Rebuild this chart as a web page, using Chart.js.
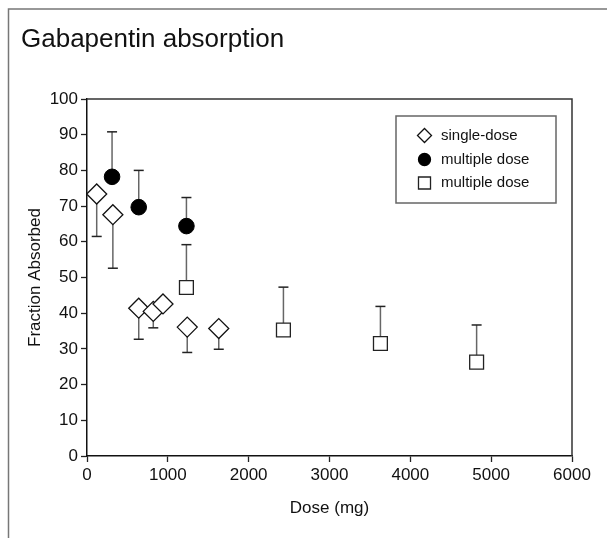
<!DOCTYPE html>
<html>
<head>
<meta charset="utf-8">
<script src="https://cdn.jsdelivr.net/npm/chart.js@4.4.1/dist/chart.umd.min.js"></script>
<style>
  html, body { margin: 0; padding: 0; background: #fff; }
</style>
</head>
<body>
<canvas id="absorptionChart" width="607" height="538"></canvas>
<script>
// values
const singleDose = [120, 320, 640, 820, 940, 1240, 1630];
const singleFraction = [73.4, 67.6, 41.4, 40.5, 42.6, 36.1, 35.7];
const singleLower = [61.5, 52.6, 32.7, 35.9, null, 29.0, 29.9];

const multiDose = [310, 640, 1230];
const multiFraction = [78.2, 69.7, 64.4];
const multiUpper = [90.8, 80.0, 72.4];

const multi2Dose = [1230, 2430, 3630, 4820];
const multi2Fraction = [47.2, 35.3, 31.5, 26.3];
const multi2Upper = [59.2, 47.3, 41.9, 36.7];

const legendLabels = ['single-dose', 'multiple dose', 'multiple dose'];
const xTicks = [0, 1000, 2000, 3000, 4000, 5000, 6000];
const yTicks = [0, 10, 20, 30, 40, 50, 60, 70, 80, 90, 100];

const FONT = "'Liberation Sans', Arial, Helvetica, sans-serif";

const toPoints = (xs, ys) => xs.map((v, i) => ({ x: v, y: ys[i] }));

// error bars drawn under the markers so the white fill covers them
const errorBars = {
  id: 'errorBars',
  beforeDatasetsDraw(chart) {
    const { ctx, scales: { x, y } } = chart;
    ctx.save();
    chart.data.datasets.forEach(ds => {
      ds.errorTo.forEach((end, i) => {
        if (end == null) return;
        const px = x.getPixelForValue(ds.data[i].x);
        const py = y.getPixelForValue(ds.data[i].y);
        const pe = y.getPixelForValue(end);
        ctx.strokeStyle = '#666';
        ctx.lineWidth = 1.5;
        ctx.beginPath();
        ctx.moveTo(px, py);
        ctx.lineTo(px, pe);
        ctx.stroke();
        ctx.strokeStyle = '#222';
        ctx.beginPath();
        ctx.moveTo(px - 5, pe);
        ctx.lineTo(px + 5, pe);
        ctx.stroke();
      });
    });
    ctx.restore();
  }
};

// outer frame, plot box, title and legend
const decorations = {
  id: 'decorations',
  afterDraw(chart) {
    const { ctx, chartArea: a } = chart;
    ctx.save();
    ctx.strokeStyle = '#777';
    ctx.lineWidth = 1.5;
    ctx.beginPath();
    ctx.moveTo(8.5, 538);
    ctx.lineTo(8.5, 9);
    ctx.lineTo(607, 9);
    ctx.stroke();

    ctx.strokeStyle = '#333';
    ctx.lineWidth = 1.5;
    ctx.beginPath();
    ctx.moveTo(a.left, a.top);
    ctx.lineTo(a.right, a.top);
    ctx.lineTo(a.right, a.bottom);
    ctx.stroke();

    ctx.fillStyle = '#111';
    ctx.font = '26px ' + FONT;
    ctx.textBaseline = 'alphabetic';
    ctx.fillText('Gabapentin absorption', 21, 47);

    // legend
    ctx.strokeStyle = '#666';
    ctx.lineWidth = 1.5;
    ctx.strokeRect(396, 116, 160, 87);
    const rows = [135.5, 159.5, 183];
    ctx.font = '15px ' + FONT;
    ctx.textBaseline = 'middle';
    chart.data.datasets.forEach((ds, i) => {
      ctx.fillStyle = ds.backgroundColor;
      ctx.strokeStyle = ds.borderColor;
      ctx.lineWidth = 1.3;
      Chart.helpers.drawPoint(ctx, {
        pointStyle: ds.pointStyle,
        radius: ds.legendRadius,
        rotation: 0,
        borderWidth: 1.3
      }, 424.5, rows[i]);
      ctx.fillStyle = '#111';
      ctx.fillText(legendLabels[i], 441, rows[i]);
    });
    ctx.restore();
  }
};

new Chart(document.getElementById('absorptionChart'), {
  type: 'scatter',
  data: {
    datasets: [
      {
        label: legendLabels[0],
        data: toPoints(singleDose, singleFraction),
        errorTo: singleLower,
        pointStyle: 'rectRot',
        pointRadius: 10,
        legendRadius: 7,
        backgroundColor: '#fff',
        borderColor: '#111',
        borderWidth: 1.3
      },
      {
        label: legendLabels[1],
        data: toPoints(multiDose, multiFraction),
        errorTo: multiUpper,
        pointStyle: 'circle',
        pointRadius: 7.8,
        legendRadius: 6,
        backgroundColor: '#000',
        borderColor: '#000',
        borderWidth: 1
      },
      {
        label: legendLabels[2],
        data: toPoints(multi2Dose, multi2Fraction),
        errorTo: multi2Upper,
        pointStyle: 'rect',
        pointRadius: 9.8,
        legendRadius: 8.5,
        backgroundColor: '#fff',
        borderColor: '#222',
        borderWidth: 1.3
      }
    ]
  },
  options: {
    responsive: false,
    animation: false,
    events: [],
    layout: { padding: { left: 0, right: 35, top: 99, bottom: 0 } },
    plugins: {
      legend: { display: false },
      tooltip: { enabled: false }
    },
    scales: {
      x: {
        type: 'linear',
        min: 0,
        max: 6000,
        afterBuildTicks: s => { s.ticks = xTicks.map(v => ({ value: v })); },
        afterFit: s => { s.height = 82; },
        grid: { drawOnChartArea: false, tickLength: 6, tickColor: '#222', tickWidth: 1.3 },
        border: { color: '#111', width: 1.5 },
        ticks: {
          color: '#111',
          padding: 3,
          maxRotation: 0,
          font: { family: FONT, size: 17 },
          callback: v => String(v)
        },
        title: { display: true, text: 'Dose (mg)', color: '#111', padding: { top: 0, bottom: 19 }, font: { family: FONT, size: 17 } }
      },
      y: {
        min: 0,
        max: 100,
        afterBuildTicks: s => { s.ticks = yTicks.map(v => ({ value: v })); },
        afterFit: s => { s.width = 87; },
        grid: { drawOnChartArea: false, tickLength: 6, tickColor: '#222', tickWidth: 1.3 },
        border: { color: '#111', width: 1.5 },
        ticks: { color: '#111', padding: 3, font: { family: FONT, size: 17 }, callback: v => String(v) },
        title: { display: true, text: 'Fraction Absorbed', color: '#111', padding: { top: 25, bottom: 0 }, font: { family: FONT, size: 17 } }
      }
    }
  },
  plugins: [errorBars, decorations]
});
</script>
</body>
</html>
